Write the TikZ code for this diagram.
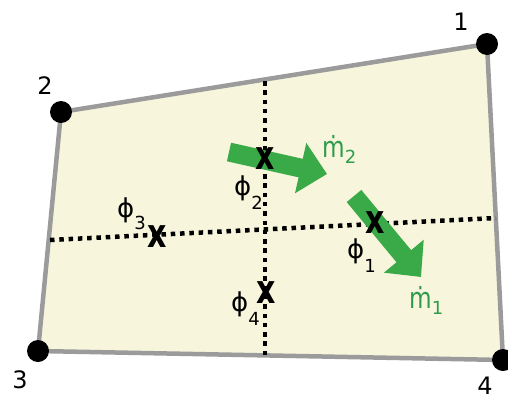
\documentclass[tikz,border=0pt]{standalone}
\usepackage{fontspec}
\setmainfont{DejaVu Sans}
\usetikzlibrary{arrows.meta}
\definecolor{cellfill}{HTML}{F7F5DC}
\definecolor{edgegray}{HTML}{9B9B9B}
\definecolor{flowgreen}{HTML}{3AAA48}
\definecolor{labelgreen}{HTML}{2E9C4C}
\newcommand{\lowsub}[2]{\raisebox{-#1}{\fontsize{18}{18}\selectfont #2}}
\newcommand{\narrowm}{\scalebox{0.8}[1]{ṁ}}
\newcommand{\narrowx}{\scalebox{0.75}[1]{x}}
\begin{document}
\begin{tikzpicture}[x=1pt,y=-1pt,
  vertex/.style={circle,fill=black,inner sep=0pt,minimum size=22pt},
  numlabel/.style={font=\fontsize{24}{24}\selectfont,inner sep=0pt},
  xmark/.style={font=\fontsize{40}{40}\selectfont\bfseries,inner sep=0pt},
  philabel/.style={font=\fontsize{26}{26}\selectfont,inner sep=0pt,anchor=base west},
  mlabel/.style={font=\fontsize{29}{29}\selectfont,text=labelgreen,inner sep=0pt,anchor=base west},
  gridline/.style={line width=4.5pt,dash pattern=on 4.5pt off 4.8pt},
  flow/.style={flowgreen,line width=19pt,-{Triangle[width=50pt,length=27pt]}}]
\useasboundingbox (0,0) rectangle (508,399);
% cell
\coordinate (c1) at (487,44);
\coordinate (c2) at (61,112);
\coordinate (c3) at (38,351);
\coordinate (c4) at (503,360);
\filldraw[fill=cellfill,draw=edgegray,line width=4.5pt,line join=round] (c1) -- (c2) -- (c3) -- (c4) -- cycle;
% grid lines
\coordinate (vt) at (265,81);
\coordinate (vb) at (265,358);
\coordinate (hl) at (50,240);
\coordinate (hr) at (496,218);
\draw[gridline] (vt) -- (vb);
\draw[gridline] (hl) -- (hr);
% flow arrows
\coordinate (a2t) at (229,152);
\coordinate (a2h) at (327,174);
\coordinate (a1t) at (354,196);
\coordinate (a1h) at (421,277);
\draw[flow] (a2t) -- (a2h);
\draw[flow] (a1t) -- (a1h);
% vertices
\node[vertex] (v1) at (c1) {};
\node[vertex] (v2) at (c2) {};
\node[vertex] (v3) at (c3) {};
\node[vertex] (v4) at (c4) {};
\node[numlabel] (n1) at (461,22) {1};
\node[numlabel] (n2) at (45,86) {2};
\node[numlabel] (n3) at (20,380) {3};
\node[numlabel] (n4) at (485,386) {4};
% x marks
\node[xmark] (x1) at (375,223) {\narrowx};
\node[xmark] (x2) at (265,159) {\narrowx};
\node[xmark] (x3) at (157,237) {\narrowx};
\node[xmark] (x4) at (266,293) {\narrowx};
% labels
\node[philabel] (p1) at (347,258) {ϕ\lowsub{14pt}{1}};
\node[philabel] (p2) at (234,195) {ϕ\lowsub{14pt}{2}};
\node[philabel] (p3) at (117,217) {ϕ\lowsub{12pt}{3}};
\node[philabel] (p4) at (231,311) {ϕ\lowsub{14pt}{4}};
\node[mlabel] (m2) at (322,157) {\narrowm\lowsub{6pt}{2}};
\node[mlabel] (m1) at (409,308) {\narrowm\lowsub{6pt}{1}};
\end{tikzpicture}
\end{document}
